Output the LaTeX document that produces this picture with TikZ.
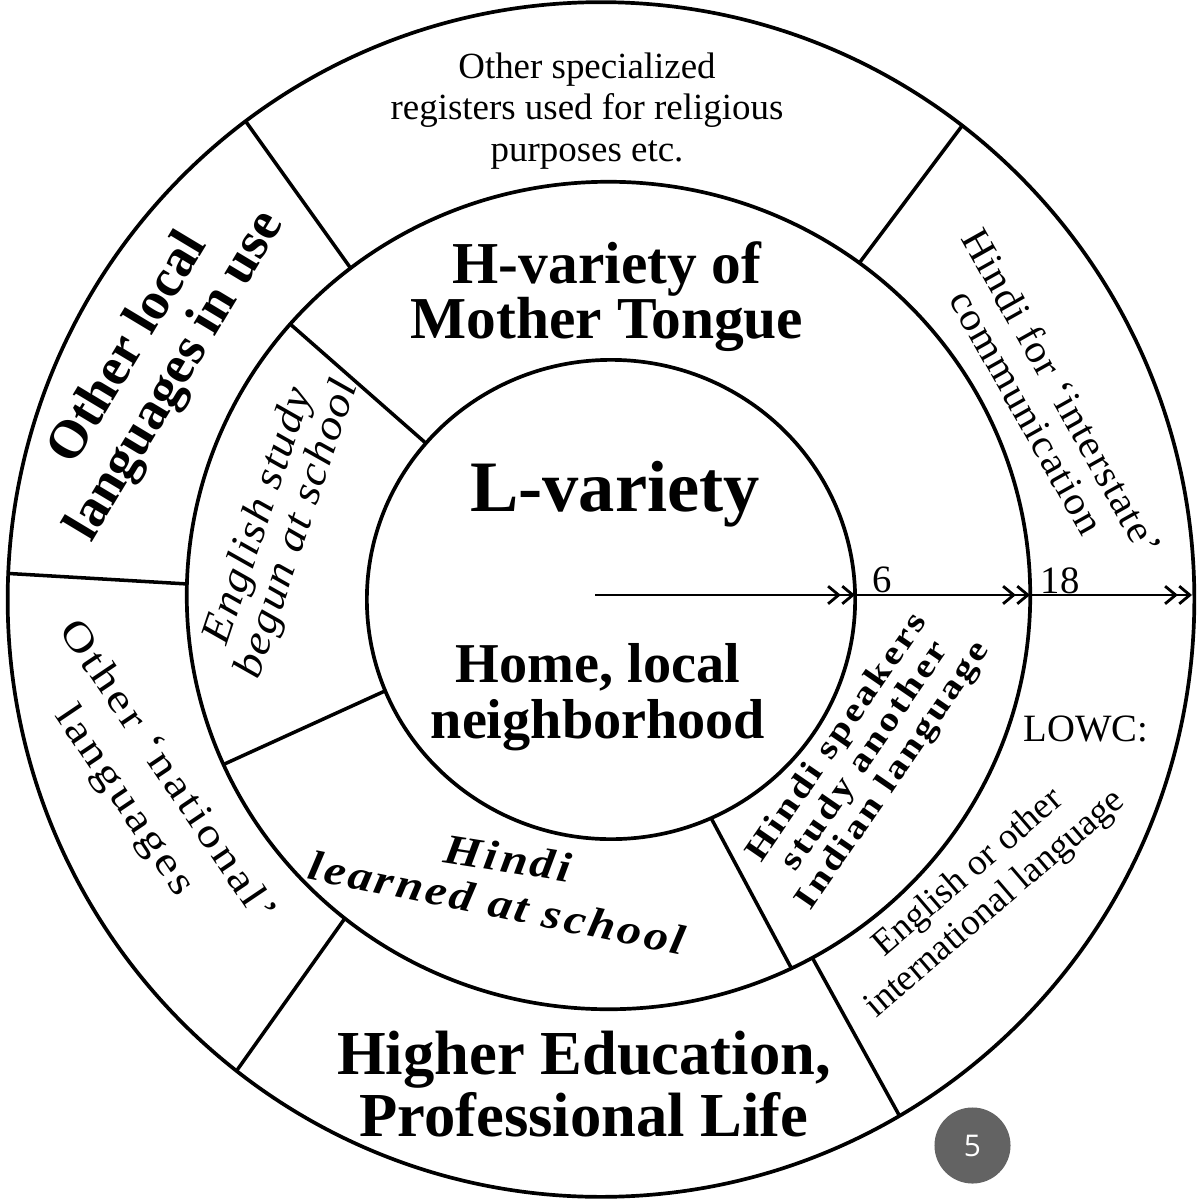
\documentclass[tikz,border=0pt]{standalone}
\usepackage{fontspec}
\setmainfont{Liberation Serif}
\newfontfamily\badgefont{Open Sans}
\usetikzlibrary{arrows.meta,calc}
\definecolor{badgegray}{RGB}{99,99,99}
\newcommand{\setfs}[2]{\fontsize{#1pt}{#2pt}\selectfont}
\newcommand{\myls}[2]{\addfontfeatures{FakeStretch=#1,LetterSpace=#2}}
\begin{document}
\begin{tikzpicture}[x=0.01cm,y=-0.01cm,
  ring/.style={line width=1.05pt},
  divider/.style={line width=1pt},
  lbl/.style={inner sep=0pt, align=center},
  axisarrow/.style={line width=0.8pt, -{Straight Barb[length=3pt,width=5pt]Straight Barb[length=3pt,width=5pt]}}]
\useasboundingbox (0,0) rectangle (1199,1200);
\fill[white] (0,0) rectangle (1199,1200);

% centres
\coordinate (O) at (601,599.5);
\coordinate (M) at (608.5,595.5);
\coordinate (I) at (611,599.5);

% rings
\draw[ring] (O) ellipse [x radius=5.93cm, y radius=5.97cm];
\draw[ring] (M) ellipse [x radius=4.215cm, y radius=4.135cm];
\draw[ring] (I) ellipse [x radius=2.44cm, y radius=2.395cm];

% dividers, outer ring
\coordinate (d1o) at ($(O)+(233.2:593 and 597)$);
\coordinate (d1m) at ($(M)+(232.3:421.5 and 413.5)$);
\coordinate (d2o) at ($(O)+(307.5:593 and 597)$);
\coordinate (d2m) at ($(M)+(306.5:421.5 and 413.5)$);
\coordinate (d3o) at ($(O)+(182.5:593 and 597)$);
\coordinate (d3m) at ($(M)+(181.6:421.5 and 413.5)$);
\coordinate (d4o) at ($(O)+(127.9:593 and 597)$);
\coordinate (d4m) at ($(M)+(128.7:421.5 and 413.5)$);
\coordinate (d5o) at ($(O)+(59.8:593 and 597)$);
\coordinate (d5m) at ($(M)+(61.1:421.5 and 413.5)$);
% dividers, middle ring
\coordinate (d6m) at ($(M)+(221.0:421.5 and 413.5)$);
\coordinate (d6i) at ($(I)+(220.7:244 and 239.5)$);
\coordinate (d7m) at ($(M)+(155.9:421.5 and 413.5)$);
\coordinate (d7i) at ($(I)+(157.6:244 and 239.5)$);
\coordinate (d8m) at ($(M)+(64.3:421.5 and 413.5)$);
\coordinate (d8i) at ($(I)+(65.8:244 and 239.5)$);

\foreach \a/\b in {d1o/d1m,d2o/d2m,d3o/d3m,d4o/d4m,d5o/d5m,d6m/d6i,d7m/d7i,d8m/d8i}
  \draw[divider] (\a) -- (\b);

% age axis
\coordinate (a0) at (595,595);
\coordinate (a1) at (855,595);
\coordinate (a2) at (1030,595);
\coordinate (a3) at (1192,595);
\draw[axisarrow] (a0) -- (a1);
\draw[axisarrow] (a1) -- (a2);
\draw[axisarrow] (a2) -- (a3);
\node[lbl, font=\setfs{11}{12}] (six) at (882,580) {6};
\node[lbl, font=\setfs{11}{12}] (eighteen) at (1060,581) {18};

% labels
\node[lbl, font=\setfs{10.5}{11.7}] (spec) at (587,111)
  {Other specialized\\registers used for religious\\purposes etc.};
\node[lbl, font=\bfseries\setfs{16.9}{15.6}] (hvar) at (607,297)
  {H-variety of\\Mother Tongue};
\node[lbl, font=\bfseries\setfs{20.6}{24}] (lvar) at (615,494) {L-variety};
\node[lbl, font=\bfseries\setfs{16}{15.9}] (home) at (598,697)
  {Home, local\\neighborhood};
\node[lbl, font=\bfseries\setfs{17.8}{17.5}] (higher) at (584,1084)
  {Higher Education,\\Professional Life};
\node[lbl, font=\bfseries\setfs{15.3}{15.5}, rotate=59] (otherlocal) at (153,363)
  {Other local\\languages in use};
\node[lbl, font=\itshape\setfs{12}{11.5}\myls{1.1}{3.5}, rotate=71.5] (english) at (279,523)
  {English study\\begun at school};
\node[lbl, font=\setfs{11.5}{14.5}\myls{1.2}{8}, rotate=-56] (national) at (145,787)
  {Other ‘national’\\languages};
\node[lbl, font=\bfseries\itshape\setfs{12}{14}\myls{1.15}{7}, rotate=-9] (hindi1) at (508,858) {Hindi};
\node[lbl, font=\bfseries\itshape\setfs{12}{14}\myls{1.15}{7}, rotate=-11.5] (hindi2) at (497,903) {learned at school};
\node[lbl, font=\bfseries\setfs{9.5}{8}\myls{1.2}{9}, rotate=55.5] (speakers) at (866,757)
  {Hindi speakers\\study another\\Indian language};
\node[lbl, font=\setfs{11.3}{11.5}\myls{1.05}{3}, rotate=-60.7] (interstate) at (1045,402)
  {Hindi for ‘interstate’\\communication};
\node[lbl, font=\setfs{11}{13}] (lowc) at (1086,729) {LOWC:};
\node[lbl, font=\setfs{10.5}{11.7}, rotate=40.6] (intl) at (982,889)
  {English or other\\international language};

% page badge
\node[circle, fill=badgegray, minimum size=0.76cm, inner sep=0pt, text=white,
  font=\badgefont\setfs{8.5}{10}] (badge) at (972.5,1145.5) {5};
\end{tikzpicture}
\end{document}
